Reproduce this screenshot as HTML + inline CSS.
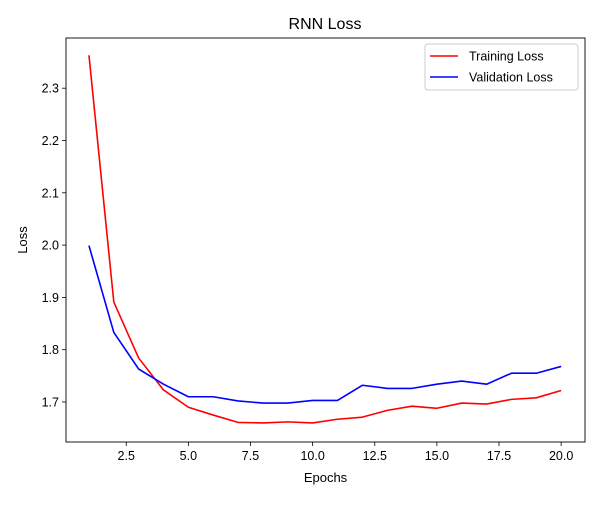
<!DOCTYPE html>
<html><head><meta charset="utf-8"><style>
body{margin:0;background:#fff;font-family:"Liberation Sans","DejaVu Sans",sans-serif}
</style></head><body>
<svg id="chart" width="600" height="500" xmlns="http://www.w3.org/2000/svg"></svg>
<script>
const epochs=[1,2,3,4,5,6,7,8,9,10,11,12,13,14,15,16,17,18,19,20];
const trainLoss=[2.363,1.891,1.784,1.723,1.690,1.675,1.661,1.660,1.662,1.660,1.667,1.671,1.684,1.692,1.688,1.698,1.696,1.705,1.708,1.722];
const valLoss=[1.999,1.833,1.763,1.734,1.710,1.710,1.702,1.698,1.698,1.703,1.703,1.732,1.726,1.726,1.734,1.740,1.734,1.755,1.755,1.768];
const xTicks=[2.5,5.0,7.5,10.0,12.5,15.0,17.5,20.0];
const yTicks=[1.7,1.8,1.9,2.0,2.1,2.2,2.3];

const L=66,R=585,T=38,B=442;
const xMin=0.076,xMax=20.96,yMin=1.6235,yMax=2.396;
const xs=v=>L+(v-xMin)/(xMax-xMin)*(R-L);
const ys=v=>B-(v-yMin)/(yMax-yMin)*(B-T);
const svg=document.getElementById('chart');
const NS='http://www.w3.org/2000/svg';
function mk(tag,attrs,parent){const e=document.createElementNS(NS,tag);for(const k in attrs)e.setAttribute(k,attrs[k]);(parent||svg).appendChild(e);return e;}

let t=mk('text',{x:325,y:29,'text-anchor':'middle','font-size':16,fill:'#000'});t.textContent='RNN Loss';



xTicks.forEach(v=>{
  const x=xs(v);
  const l=mk('line',{x1:x,x2:x,y1:B,y2:B+4,stroke:'#000','stroke-width':0.8});
  
  
  const tx=mk('text',{x:x,y:B+18,'text-anchor':'middle','font-size':12.5});tx.textContent=v.toFixed(1);
  
  
});
yTicks.forEach(v=>{
  const y=ys(v);
  const l=mk('line',{x1:L-4,x2:L,y1:y,y2:y,stroke:'#000','stroke-width':0.8});
  
  
  const tx=mk('text',{x:L-7,y:y+4.5,'text-anchor':'end','font-size':12.5});tx.textContent=v.toFixed(1);
  
  
});
let xl=mk('text',{x:(L+R)/2,y:482,'text-anchor':'middle','font-size':13});xl.textContent='Epochs';


let yl=mk('text',{x:0,y:0,'text-anchor':'middle','font-size':13,transform:`translate(27,${(T+B)/2}) rotate(-90)`});yl.textContent='Loss';



function series(vals,color,name){
  const p=mk('polyline',{points:vals.map((v,i)=>xs(epochs[i])+','+ys(v)).join(' '),fill:'none',stroke:color,'stroke-width':1.6,'stroke-linejoin':'round'});
  
  
}
series(trainLoss,'#ff0000','training-loss-line');
series(valLoss,'#0000ff','validation-loss-line');

const frame=mk('rect',{x:L,y:T,width:R-L,height:B-T,fill:'none',stroke:'#000','stroke-width':0.9});



const lg=mk('g',{});


mk('rect',{x:425,y:44,width:153,height:46,rx:3,fill:'#fff',stroke:'#ccc','stroke-width':1},lg);
[['Training Loss','#ff0000',56],['Validation Loss','#0000ff',77]].forEach(([n,c,y])=>{
  const g=mk('g',{},lg);
  
  
  mk('line',{x1:430,x2:458,y1:y,y2:y,stroke:c,'stroke-width':1.6},g);
  const tx=mk('text',{x:469,y:y+4.5,'font-size':12.5},g);tx.textContent=n;
});
</script>
</body></html>
